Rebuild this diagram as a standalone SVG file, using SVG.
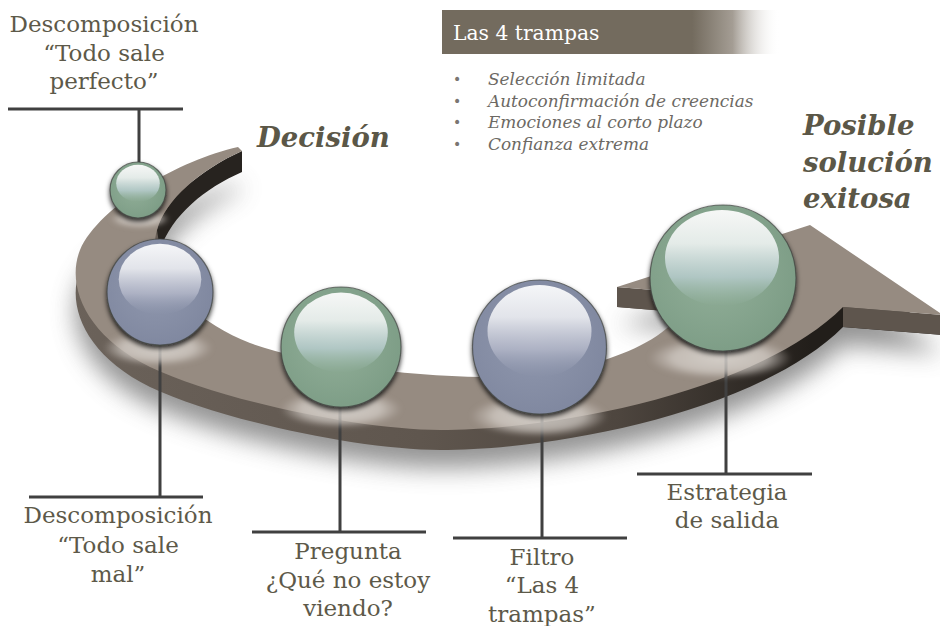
<svg xmlns="http://www.w3.org/2000/svg" xmlns:xlink="http://www.w3.org/1999/xlink" width="940" height="626" viewBox="0 0 940 626">
<style>
.lbl{font-family:"DejaVu Serif","Liberation Serif",serif;font-size:23px;fill:#5d5949;text-anchor:middle}
.big{font-family:"DejaVu Serif","Liberation Serif",serif;font-weight:bold;font-style:italic;font-size:27.5px;fill:#5b5747}
.hdr{font-family:"DejaVu Serif","Liberation Serif",serif;font-size:20.3px;fill:#ffffff}
.bul{font-family:"DejaVu Serif","Liberation Serif",serif;font-style:italic;font-size:16.9px;fill:#6c6964}
.dot{font-family:"DejaVu Sans","Liberation Sans",sans-serif;font-size:14px;fill:#7a7672}
.line{stroke:#404040;stroke-width:3;fill:none;stroke-linecap:butt}
.rim{stroke:#3e423f;stroke-width:1.2;stroke-opacity:0.7}
</style>
<defs>
<path id="bandShape" d="M 238,147 C 180,160 100,205 80,250 C 66,285 85,335 150,367 C 220,400 360,430 440,430 C 560,430 760,390 843,307 L 943,315 L 810,225 L 617,287 L 690,293 C 680,345 580,378 483,377 C 400,376 300,362 250,343 C 190,320 145,270 157,230 C 165,200 200,170 242,151 Z"/>
<linearGradient id="sideGrad" gradientUnits="userSpaceOnUse" x1="70" y1="0" x2="850" y2="0">
<stop offset="0" stop-color="#6b625a"/>
<stop offset="0.45" stop-color="#5f564e"/>
<stop offset="0.7" stop-color="#4e463f"/>
<stop offset="0.95" stop-color="#221e1a"/>
<stop offset="1" stop-color="#221e1a"/>
</linearGradient>
<filter id="shadowBlur" x="-20%" y="-30%" width="140%" height="170%">
<feGaussianBlur stdDeviation="12"/>
</filter>
<filter id="glowBlur" x="-20%" y="-50%" width="140%" height="200%">
<feGaussianBlur stdDeviation="2.5"/>
</filter>
<filter id="ballShadow" x="-20%" y="-20%" width="140%" height="150%">
<feDropShadow dx="0" dy="3" stdDeviation="2.5" flood-color="#000" flood-opacity="0.8"/>
</filter>
<radialGradient id="gBase" cx="0.45" cy="0.45" r="0.6">
<stop offset="0" stop-color="#93b09a"/>
<stop offset="1" stop-color="#7c9c85"/>
</radialGradient>
<radialGradient id="bBase" cx="0.45" cy="0.45" r="0.6">
<stop offset="0" stop-color="#9098ae"/>
<stop offset="1" stop-color="#7f879f"/>
</radialGradient>
<linearGradient id="gHi" x1="0" y1="0" x2="0" y2="1">
<stop offset="0" stop-color="#f6f7f6"/>
<stop offset="0.35" stop-color="#e4ebe8"/>
<stop offset="0.7" stop-color="#b8cdcf" stop-opacity="0.8"/>
<stop offset="1" stop-color="#9fbcae" stop-opacity="0"/>
</linearGradient>
<linearGradient id="bHi" x1="0" y1="0" x2="0" y2="1">
<stop offset="0" stop-color="#f5f6f8"/>
<stop offset="0.35" stop-color="#e2e4ea"/>
<stop offset="0.7" stop-color="#b5b9ca" stop-opacity="0.8"/>
<stop offset="1" stop-color="#959cb2" stop-opacity="0"/>
</linearGradient>
<radialGradient id="glow" cx="0.5" cy="0.5" r="0.5">
<stop offset="0" stop-color="#e2ded9" stop-opacity="0.8"/>
<stop offset="0.65" stop-color="#d8d2cc" stop-opacity="0.7"/>
<stop offset="1" stop-color="#cfc8c1" stop-opacity="0"/>
</radialGradient>
<linearGradient id="hdrGrad" gradientUnits="userSpaceOnUse" x1="442" y1="0" x2="780" y2="0">
<stop offset="0" stop-color="#736b5e"/>
<stop offset="0.74" stop-color="#736b5e"/>
<stop offset="0.86" stop-color="#a49d94"/>
<stop offset="1" stop-color="#ffffff" stop-opacity="0"/>
</linearGradient>
</defs>
<rect width="940" height="626" fill="#ffffff"/>

<g id="band">
<use xlink:href="#bandShape" href="#bandShape" transform="translate(0,38)" fill="#6f6f6f" opacity="0.75" filter="url(#shadowBlur)"/>
<use xlink:href="#bandShape" href="#bandShape" transform="translate(0,20)" fill="url(#sideGrad)"/>
<path d="M 157,230 C 165,200 200,170 242,151 L 242,172 C 205,188 172,215 160,250 Z" fill="#27231f"/>
<path d="M 843,307 L 943,315 L 943,335 L 843,327 Z" fill="#5e554d"/>
<path d="M 617,287 L 690,293 L 690,313 L 617,307 Z" fill="#5e554d"/>
<use xlink:href="#bandShape" href="#bandShape" fill="#968b81"/>
</g>

<g id="connectors">
<path class="line" d="M 8,109 H 183 M 139,109 V 163"/>
<path class="line" d="M 160,345 V 497 M 29,497 H 203"/>
<path class="line" d="M 340,405 V 532 M 252,532 H 426"/>
<path class="line" d="M 542,412 V 538 M 453,538 H 627"/>
<path class="line" d="M 726,350 V 474 M 637,474 H 812"/>
</g>

<g id="node-perfecto">
<ellipse cx="140" cy="219" rx="30" ry="9" fill="url(#glow)" filter="url(#glowBlur)"/>
<circle cx="138" cy="190" r="28" fill="url(#gBase)" class="rim" filter="url(#ballShadow)"/>
<ellipse cx="138" cy="183.3" rx="21.8" ry="18.5" fill="url(#gHi)"/>
<text class="lbl" x="104" y="32">Descomposición</text>
<text class="lbl" x="104" y="60.5">“Todo sale</text>
<text class="lbl" x="104" y="89">perfecto”</text>
</g>

<g id="node-mal">
<ellipse cx="158" cy="348" rx="55" ry="18" fill="url(#glow)" filter="url(#glowBlur)"/>
<circle cx="160" cy="292" r="53" fill="url(#bBase)" class="rim" filter="url(#ballShadow)"/>
<ellipse cx="160" cy="279.3" rx="41.3" ry="35.5" fill="url(#bHi)"/>
<text class="lbl" x="118" y="523">Descomposición</text>
<text class="lbl" x="118" y="553">“Todo sale</text>
<text class="lbl" x="118" y="582">mal”</text>
</g>

<g id="node-pregunta">
<ellipse cx="341" cy="409" rx="61" ry="19" fill="url(#glow)" filter="url(#glowBlur)"/>
<circle cx="341" cy="347" r="60" fill="url(#gBase)" class="rim" filter="url(#ballShadow)"/>
<ellipse cx="341" cy="332.6" rx="46.8" ry="40" fill="url(#gHi)"/>
<text class="lbl" x="348" y="559">Pregunta</text>
<text class="lbl" x="348" y="588">¿Qué no estoy</text>
<text class="lbl" x="348" y="616">viendo?</text>
</g>

<g id="node-filtro">
<ellipse cx="539" cy="416" rx="69" ry="21" fill="url(#glow)" filter="url(#glowBlur)"/>
<circle cx="539.5" cy="347" r="67" fill="url(#bBase)" class="rim" filter="url(#ballShadow)"/>
<ellipse cx="539.5" cy="331" rx="52" ry="46" fill="url(#bHi)"/>
<text class="lbl" x="542" y="565">Filtro</text>
<text class="lbl" x="542" y="593">“Las 4</text>
<text class="lbl" x="542" y="622">trampas”</text>
</g>

<g id="node-estrategia">
<ellipse cx="720" cy="358" rx="72" ry="21" fill="url(#glow)" filter="url(#glowBlur)"/>
<circle cx="723" cy="278" r="73" fill="url(#gBase)" class="rim" filter="url(#ballShadow)"/>
<ellipse cx="722" cy="258" rx="57" ry="48" fill="url(#gHi)"/>
<text class="lbl" x="727" y="500">Estrategia</text>
<text class="lbl" x="727" y="528">de salida</text>
</g>

<g id="title-decision">
<text class="big" x="257" y="147">Decisión</text>
</g>

<g id="title-solucion">
<text class="big" x="803" y="135">Posible</text>
<text class="big" x="803" y="172">solución</text>
<text class="big" x="803" y="208">exitosa</text>
</g>

<g id="trampas">
<rect x="442" y="10" width="340" height="44" fill="url(#hdrGrad)"/>
<text class="hdr" x="453" y="40">Las 4 trampas</text>
<text class="dot" x="453" y="84">•</text>
<text class="dot" x="453" y="105.5">•</text>
<text class="dot" x="453" y="127">•</text>
<text class="dot" x="453" y="148.5">•</text>
<text class="bul" x="488" y="85">Selección limitada</text>
<text class="bul" x="488" y="106.5">Autoconfirmación de creencias</text>
<text class="bul" x="488" y="128">Emociones al corto plazo</text>
<text class="bul" x="488" y="149.5">Confianza extrema</text>
</g>
</svg>
